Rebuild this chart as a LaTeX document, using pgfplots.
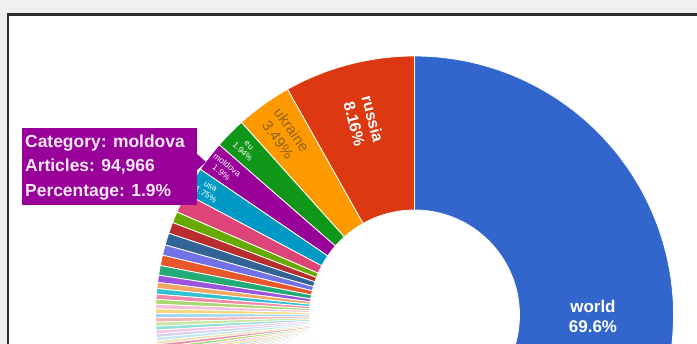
\documentclass[border=0pt]{standalone}
\usepackage{fontspec}
\setmainfont{Liberation Sans}
\usepackage{pgfplots}
\usepackage{pgfplotstable}
\pgfplotsset{compat=1.18}

\definecolor{sA}{HTML}{3366CC}
\definecolor{sB}{HTML}{DC3912}
\definecolor{sC}{HTML}{FF9900}
\definecolor{sD}{HTML}{109618}
\definecolor{sE}{HTML}{990099}
\definecolor{sF}{HTML}{0099C6}
\definecolor{sG}{HTML}{DD4477}
\definecolor{sH}{HTML}{66AA00}
\definecolor{sI}{HTML}{B82E2E}
\definecolor{sJ}{HTML}{316395}
\definecolor{sK}{HTML}{7272E6}
\definecolor{sL}{HTML}{E8562C}
\definecolor{sM}{HTML}{22AA77}
\definecolor{sN}{HTML}{9955DD}
\definecolor{sO}{HTML}{F0A860}
\definecolor{sP}{HTML}{33C0D0}
\definecolor{pA}{HTML}{F08AA8}
\definecolor{pB}{HTML}{A8D86E}
\definecolor{pC}{HTML}{F4C2D8}
\definecolor{pD}{HTML}{F5D77A}
\definecolor{pE}{HTML}{9ED8F0}
\definecolor{pF}{HTML}{F5B2B2}
\definecolor{pG}{HTML}{C8E6A0}
\definecolor{pH}{HTML}{8EE0D8}
\definecolor{pI}{HTML}{F6C6E6}
\definecolor{pJ}{HTML}{D8D0F4}
\definecolor{pK}{HTML}{BFE8F0}
\definecolor{pL}{HTML}{F8E0B0}
\definecolor{bgGray}{HTML}{EFEFEF}
\definecolor{frameCol}{HTML}{2E2E2E}
\definecolor{ukrText}{HTML}{8A6420}
\definecolor{tipText}{HTML}{F8E8F8}

% share of articles per category (%), in drawing order
\pgfplotstableread{
name pct col
world 69.6 sA
russia 8.16 sB
ukraine 3.49 sC
eu 1.94 sD
moldova 1.90 sE
usa 1.75 sF
c7 1.25 sG
c8 0.70 sH
c9 0.70 sI
c10 0.75 sJ
c11 0.65 sK
c12 0.65 sL
c13 0.60 sM
c14 0.45 sN
c15 0.38 sO
c16 0.35 sP
c17 0.32 pA
c18 0.30 pB
c19 0.29 pC
c20 0.28 pD
c21 0.27 pE
c22 0.26 pF
c23 0.25 pG
c24 0.24 pH
c25 0.23 pI
c26 0.22 pJ
c27 0.21 pK
c28 0.20 pL
c29 0.20 pA
c30 0.19 pB
c31 0.18 pC
c32 0.18 pD
c33 0.17 pE
c34 0.16 pF
c35 0.16 pG
c36 0.15 pH
c37 0.15 pI
c38 0.14 pJ
c39 0.14 pK
c40 0.13 pL
c41 0.13 pA
c42 0.12 pB
c43 0.12 pC
c44 0.11 pD
c45 0.11 pE
c46 0.10 pF
c47 0.10 pG
c48 0.10 pH
c49 0.09 pI
c50 0.09 pJ
c51 0.09 pK
c52 0.08 pL
c53 0.08 pA
c54 0.07 pB
c55 0.07 pC
c56 0.07 pD
c57 0.06 pE
c58 0.06 pF
c59 0.06 pG
c60 0.05 pH
}\slices

\begin{document}
\begin{tikzpicture}
\begin{axis}[
  x=1bp, y=1bp,
  xmin=0, xmax=697, ymin=0, ymax=344,
  scale only axis, hide axis, clip=true,
]
% screenshot background and frame
\fill[bgGray] (axis cs:0,0) rectangle (axis cs:697,344);
\fill[white] (axis cs:8,-20) rectangle (axis cs:720,330);
\draw[frameCol, line width=2.6bp] (axis cs:8,-20) -- (axis cs:8,329.5) -- (axis cs:720,329.5);

% donut slices from the table
\pgfplotstablegetrowsof{\slices}
\pgfmathtruncatemacro\nrows{\pgfplotsretval-1}
\pgfmathsetmacro\acur{90-3.6*69.6}
\pgfplotsforeachungrouped \i in {0,...,\nrows}{%
  \pgfplotstablegetelem{\i}{pct}\of\slices \let\slpct\pgfplotsretval
  \pgfplotstablegetelem{\i}{col}\of\slices \let\slcol\pgfplotsretval
  \pgfmathsetmacro\anext{\acur+3.6*\slpct}
  \pgfmathsetmacro\aback{\anext+180}
  \edef\cmd{\noexpand\fill[\slcol, draw=white, line width=0.8bp]
    (axis cs:414.5,29) ++(\acur:259bp)
    arc[start angle=\acur, end angle=\anext, radius=259bp]
    -- ++(\aback:154bp)
    arc[start angle=\anext, end angle=\acur, radius=105bp] -- cycle;}%
  \cmd
  \let\acur\anext
}

% slice labels
\node[text=white, font=\fontsize{17}{20}\selectfont\bfseries, align=center]
  at (axis cs:593,28) {world\\69.6\%};
\path (axis cs:414.5,29) ++(104.7:200bp) node[rotate=-75.3, text=white,
  font=\fontsize{16}{19}\selectfont\bfseries, align=center] {russia\\8.16\%};
\path (axis cs:414.5,29) ++(125.7:222bp) node[rotate=-54.3, text=ukrText,
  font=\fontsize{15}{17}\selectfont, align=center] {ukraine\\3.49\%};
\path (axis cs:414.5,29) ++(135.5:237bp) node[rotate=-44.5, text=white,
  font=\fontsize{8.5}{9.5}\selectfont, align=center] {eu\\1.94\%};
\path (axis cs:414.5,29) ++(142.4:240bp) node[rotate=-37.6, text=white,
  font=\fontsize{8.5}{9.5}\selectfont, align=center] {moldova\\1.9\%};
\path (axis cs:414.5,29) ++(149.0:241bp) node[rotate=-31, text=white,
  font=\fontsize{8.5}{9.5}\selectfont, align=center] {usa\\1.75\%};

% tooltip
\fill[sE] (axis cs:22,139) rectangle (axis cs:197,216);
\fill[sE] (axis cs:196,191) -- (axis cs:206,182) -- (axis cs:196,173) -- cycle;
\node[anchor=base west, text=tipText, font=\fontsize{17.5}{20}\selectfont\bfseries, inner sep=0pt]
  at (axis cs:25,197) {Category: moldova};
\node[anchor=base west, text=tipText, font=\fontsize{17.5}{20}\selectfont\bfseries, inner sep=0pt]
  at (axis cs:25,172.5) {Articles: 94,966};
\node[anchor=base west, text=tipText, font=\fontsize{17.5}{20}\selectfont\bfseries, inner sep=0pt]
  at (axis cs:25,148) {Percentage: 1.9\%};
\end{axis}
\pgfresetboundingbox
\path (0,0) rectangle (697bp,344bp);
\end{tikzpicture}
\end{document}
